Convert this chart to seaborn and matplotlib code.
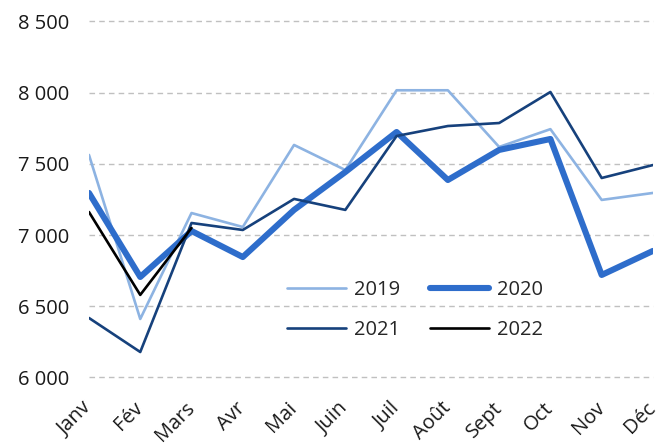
import matplotlib
matplotlib.use("Agg")
import matplotlib.pyplot as plt
import numpy as np
import pandas as pd
import seaborn as sns

sns.set_style("white")
plt.rcParams["font.family"] = ["Open Sans", "DejaVu Sans"]

months = ["Janv", "Fév", "Mars", "Avr", "Mai", "Juin",
          "Juil", "Août", "Sept", "Oct", "Nov", "Déc"]
y2019 = [7563, 6411, 7155, 7057, 7633, 7457, 8017, 8017, 7619, 7744, 7247, 7296]
y2020 = [7296, 6706, 7029, 6846, 7177, 7443, 7724, 7387, 7598, 7675, 6720, 6889]
y2021 = [6418, 6179, 7085, 7036, 7254, 7177, 7696, 7766, 7787, 8005, 7401, 7492]
y2022 = [7162, 6580, 7050]

series = [
    ("2019", y2019, "#8DB3E2", 1.9),
    ("2020", y2020, "#2E6DCB", 4.4),
    ("2021", y2021, "#16417C", 1.9),
    ("2022", y2022, "#000000", 1.9),
]

fig = plt.figure(figsize=(6.69, 4.46), dpi=100)
ax = fig.add_axes([0.133, 0.1536, 0.843, 0.7982])

for name, vals, col, lw in series:
    df = pd.DataFrame({"Mois": months[:len(vals)], "Valeur": vals})
    sns.lineplot(data=df, x="Mois", y="Valeur", color=col, linewidth=lw,
                 label=name, ax=ax, sort=False)

ax.set_xlim(0, 11)
ax.set_ylim(6000, 8500)
ax.set_yticks(np.arange(6000, 8501, 500))
ax.set_yticklabels(["{:,}".format(v).replace(",", " ") for v in range(6000, 8501, 500)])
ax.yaxis.grid(True, color="#c0c0c0", linestyle=(0, (4, 3)), linewidth=1)
ax.xaxis.grid(False)
ax.set_axisbelow(True)
for gl in ax.get_ygridlines():
    gl.set_clip_on(False)
for s in ax.spines.values():
    s.set_visible(False)
ax.set_xlabel("")
ax.set_ylabel("")
ax.tick_params(axis="both", length=0, labelsize=14.5, colors="#1a1a1a")
ax.tick_params(axis="y", pad=14)
ax.tick_params(axis="x", pad=20)
plt.setp(ax.get_xticklabels(), rotation=45, ha="right", va="center",
         rotation_mode="anchor")

# legend reads row by row: 2019 2020 / 2021 2022
handles, labels = ax.get_legend_handles_labels()
order = [0, 2, 1, 3]
ax.legend([handles[i] for i in order], [labels[i] for i in order],
          loc="center", bbox_to_anchor=(0.578, 0.19), ncol=2, frameon=False,
          fontsize=14.5, handlelength=2.9, handletextpad=0.4,
          columnspacing=1.5, labelspacing=1.0, borderpad=0)

fig.savefig("out.png", dpi=100)
